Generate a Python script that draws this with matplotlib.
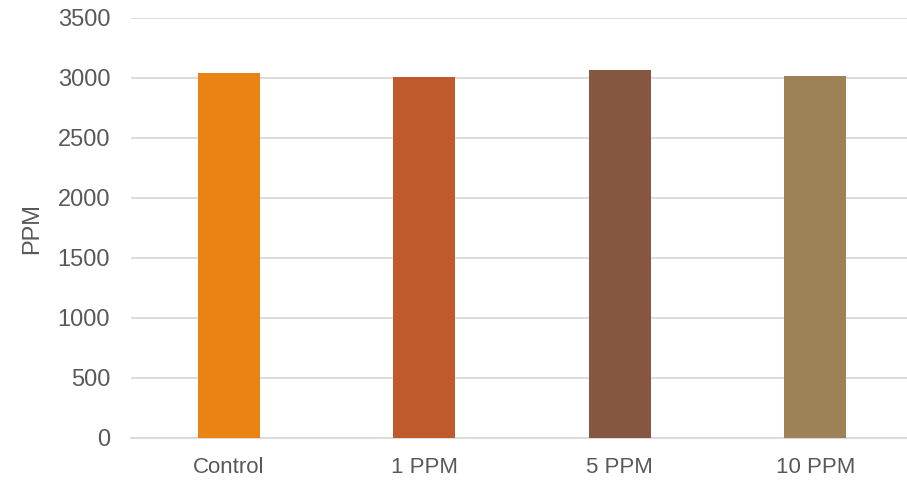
import matplotlib.pyplot as plt

plt.rcParams['font.family'] = ['Liberation Sans', 'DejaVu Sans']

groups = ["Control", "1 PPM", "5 PPM", "10 PPM"]
ppm = [3040, 3006, 3064, 3014]
colors = ["#E88314", "#BE5A2B", "#865740", "#9C8256"]
yticks = [0, 500, 1000, 1500, 2000, 2500, 3000, 3500]

fig = plt.figure(figsize=(9.07, 4.82), dpi=100)
ax = fig.add_axes([131 / 907, 44 / 482, 782 / 907, 420 / 482])

x = range(len(groups))
ax.bar(x, ppm, width=0.317, color=colors, zorder=3)

ax.set_xlim(-0.5, len(groups) - 0.5)
ax.set_ylim(0, 3500)
ax.set_yticks(yticks)
ax.set_xticks(list(x))
ax.set_xticklabels(groups)

ax.yaxis.grid(True, color="#D9D9D9", linewidth=1.3, zorder=0)
for side in ["top", "right", "left"]:
    ax.spines[side].set_visible(False)
ax.spines["bottom"].set_color("#D9D9D9")
ax.spines["bottom"].set_linewidth(1.3)

ax.tick_params(axis="y", length=0, pad=15, labelsize=17, labelcolor="#595959")
ax.tick_params(axis="x", length=0, pad=14, labelsize=16, labelcolor="#595959")
ax.set_ylabel("PPM", fontsize=17, color="#595959")
ax.yaxis.set_label_coords(-88 / 782, 0.5)

fig.savefig("out.png", dpi=100)
